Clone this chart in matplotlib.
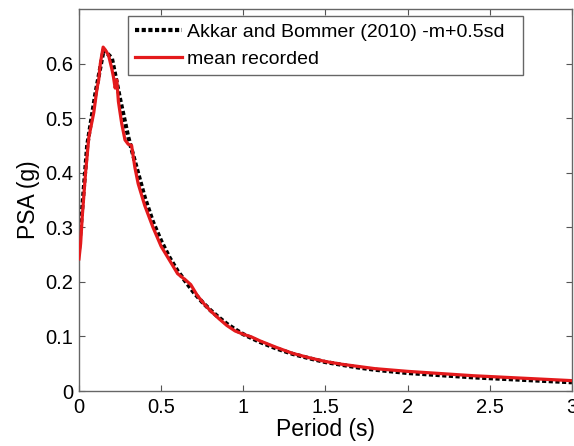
import numpy as np
import matplotlib
matplotlib.use("Agg")
import matplotlib.pyplot as plt

# ===============================
# Data
# ===============================
ab_period = [0.0, 0.05, 0.10, 0.15, 0.20, 0.25, 0.30, 0.35, 0.40, 0.45, 0.50,
             0.55, 0.60, 0.65, 0.70, 0.75, 0.80, 0.85, 0.90, 0.95, 1.0,
             1.1, 1.2, 1.3, 1.4, 1.5, 1.6, 1.7, 1.8, 1.9, 2.0,
             2.2, 2.4, 2.6, 2.8, 3.0]
ab_psa = [0.26, 0.45, 0.545, 0.625, 0.61, 0.535, 0.465, 0.41, 0.355, 0.31, 0.275,
          0.245, 0.22, 0.20, 0.18, 0.163, 0.148, 0.135, 0.123, 0.113, 0.104,
          0.09, 0.078, 0.068, 0.06, 0.053, 0.048, 0.043, 0.039, 0.036, 0.033,
          0.029, 0.025, 0.022, 0.019, 0.016]

rec_period = [0.0, 0.01, 0.02, 0.04, 0.06, 0.07, 0.09, 0.11, 0.12, 0.13, 0.147,
              0.16, 0.18, 0.20, 0.21, 0.22, 0.23, 0.24, 0.26, 0.28, 0.30,
              0.32, 0.34, 0.36, 0.40, 0.45, 0.50, 0.55, 0.60, 0.65, 0.68,
              0.72, 0.76, 0.80, 0.85, 0.90, 0.95, 1.0, 1.05, 1.1, 1.2,
              1.3, 1.4, 1.5, 1.6, 1.8, 2.0, 2.2, 2.4, 2.6, 2.8, 3.0]
rec_psa = [0.242, 0.27, 0.32, 0.40, 0.465, 0.48, 0.51, 0.555, 0.57, 0.60, 0.63,
           0.625, 0.615, 0.59, 0.575, 0.555, 0.57, 0.53, 0.49, 0.46, 0.452,
           0.45, 0.41, 0.38, 0.34, 0.30, 0.265, 0.24, 0.215, 0.203, 0.195,
           0.175, 0.16, 0.147, 0.133, 0.12, 0.11, 0.104, 0.099, 0.092, 0.08,
           0.069, 0.061, 0.054, 0.049, 0.041, 0.036, 0.032, 0.028, 0.025, 0.022, 0.019]

x_ticks = [0, 0.5, 1, 1.5, 2, 2.5, 3]
x_labels = ["0", "0.5", "1", "1.5", "2", "2.5", "3"]
y_ticks = [0, 0.1, 0.2, 0.3, 0.4, 0.5, 0.6]
y_labels = ["0", "0.1", "0.2", "0.3", "0.4", "0.5", "0.6"]

plt.rcParams["font.family"] = ["Liberation Sans", "DejaVu Sans"]

fig = plt.figure(figsize=(5.74, 4.46), dpi=100)
ax = fig.add_axes([0.1376, 0.1233, 0.8589, 0.8567])

ax.plot(ab_period, ab_psa, color="black", linestyle=(0, (1, 0.6)), linewidth=3,
        label="Akkar and Bommer (2010) -m+0.5sd", zorder=2)
ax.plot(rec_period, rec_psa, color="#e41a1c", linewidth=2.3,
        label="mean recorded", zorder=3)

ax.set_xlim(0, 3)
ax.set_ylim(0, 0.7)
ax.set_xticks(x_ticks)
ax.set_xticklabels(x_labels)
ax.set_yticks(y_ticks)
ax.set_yticklabels(y_labels)
ax.tick_params(direction="in", top=True, right=True, labelsize=14.5,
               color="#555555", length=4)
ax.tick_params(axis="x", pad=5)
ax.tick_params(axis="y", pad=4)
for s in ax.spines.values():
    s.set_color("#666666")
    s.set_linewidth(1)

ax.set_xlabel("Period (s)", fontsize=16.5, labelpad=1)
ax.set_ylabel("PSA (g)", fontsize=16.5, labelpad=4)

leg = ax.legend(loc="upper left", bbox_to_anchor=(0.0994, 0.0, 0.8012, 0.9817),
                mode="expand", fontsize=14, handlelength=2.4,
                fancybox=False, framealpha=1, borderpad=0.37,
                labelspacing=0.5, handletextpad=0.26, borderaxespad=0)
leg.get_frame().set_edgecolor("#666666")
leg.get_frame().set_linewidth(1)

fig.savefig("out.png", dpi=100)
